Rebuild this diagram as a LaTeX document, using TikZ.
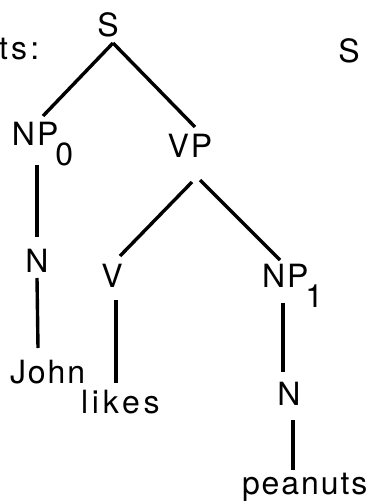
\documentclass[tikz,border=0pt]{standalone}
\usepackage{fontspec}
\setmainfont[LetterSpace=6]{TeX Gyre Heros}
\begin{document}
\begin{tikzpicture}[x=1pt,y=-1pt,
  lbl/.style={inner sep=0pt,outer sep=0pt,font=\fontsize{32}{34}\selectfont},
  edge/.style={line width=3.4pt}]
\useasboundingbox (0,0) rectangle (373,502);
\node[lbl,anchor=base west] (ts) at (-1,60) {\addfontfeature{LetterSpace=10}ts:};
\node[lbl,anchor=base] (S) at (108,37) {S};
\node[lbl,anchor=base] (S2) at (349,63) {S};
\node[lbl,anchor=base west] (NP0) at (12,146) {NP\kern-3pt\raisebox{-20pt}{0}};
\node[lbl,anchor=base] (VP) at (190,158) {VP};
\node[lbl,anchor=base] (N0) at (37,272) {N};
\node[lbl,anchor=base] (V) at (112,287) {V};
\node[lbl,anchor=base west] (NP1) at (262,287) {NP\kern-3pt\raisebox{-20pt}{1}};
\node[lbl,anchor=base west] (John) at (10,383) {John};
\node[lbl,anchor=base west] (likes) at (81,413) {\addfontfeature{LetterSpace=12}likes};
\node[lbl,anchor=base] (N1) at (289,405) {N};
\node[lbl,anchor=base west] (peanuts) at (242,494) {peanuts};
\draw[edge] ([shift={(5,6)}]S.base) -- ([shift={(31,-30)}]NP0.base west);
\draw[edge] ([shift={(5,6)}]S.base) -- ([shift={(5,-31)}]VP.base);
\draw[edge] ([shift={(25,19)}]NP0.base west) -- ([shift={(0,-35)}]N0.base);
\draw[edge] ([shift={(0,6)}]N0.base) -- ([shift={(28,-35)}]John.base west);
\draw[edge] ([shift={(2,24)}]VP.base) -- ([shift={(8,-31)}]V.base);
\draw[edge] ([shift={(10,22)}]VP.base) -- ([shift={(18,-27)}]NP1.base west);
\draw[edge] ([shift={(4,13)}]V.base) -- ([shift={(35,-30)}]likes.base west);
\draw[edge] ([shift={(21,16)}]NP1.base west) -- ([shift={(-6,-33)}]N1.base);
\draw[edge] ([shift={(4,15)}]N1.base) -- ([shift={(51,-24)}]peanuts.base west);
\end{tikzpicture}
\end{document}
